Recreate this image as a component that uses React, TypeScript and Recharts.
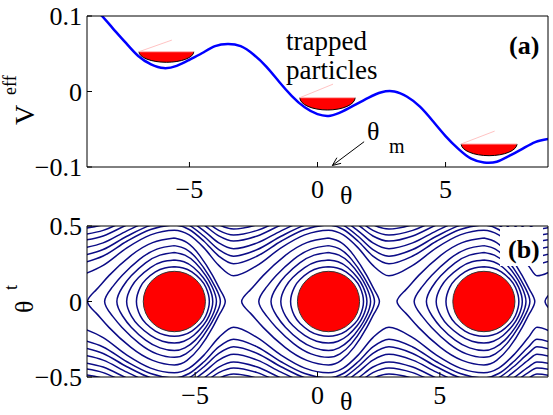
import React from "react";
import { LineChart, Line, XAxis, YAxis, ReferenceArea, ReferenceLine } from "recharts";

const FONT = "'Liberation Serif', 'DejaVu Serif', 'Times New Roman', serif";

// (a) effective potential
const thetaA = [-9, -8.5, -8, -7.5, -7, -6.5, -6, -5.5, -5, -4.5, -4, -3.5, -3, -2.5, -2, -1.5, -1, -0.5, 0, 0.5, 1, 1.5, 2, 2.5, 3, 3.5, 4, 4.5, 5, 5.5, 6, 6.5, 7, 7.5, 8, 8.5, 9];
const vEff = [0.117, 0.103, 0.084, 0.065, 0.047, 0.036, 0.031, 0.034, 0.042, 0.051, 0.06, 0.063, 0.06, 0.049, 0.033, 0.013, -0.006, -0.021, -0.03, -0.032, -0.026, -0.017, -0.008, -0.001, 0.0, -0.007, -0.02, -0.039, -0.059, -0.076, -0.089, -0.094, -0.093, -0.085, -0.076, -0.067, -0.063];

// trapped-particle bowls
const bowlLeft = [-6.97, -0.69, 5.61];
const bowlRight = [-4.83, 1.47, 7.79];
const bowlTop = [0.0527, -0.0082, -0.0695];
const bowlBottom = [0.0387, -0.0245, -0.085];

// theta_m arrow (from, to)
const arrowFrom = [1.82, -0.0665];
const arrowTo = [0.58, -0.098];

// (b) phase portrait
const wellCenters = [-5.85, 0.45, 6.8, 12.85];
const circleHalfTheta = 1.27;
const circleHalfThetaT = 0.2;

// open orbits: theta_t over the well, at 1/4, 1/2, 3/4 of the way to the saddle, at the saddle
const orbitSteps = [0, 0.25, 0.5, 0.75, 1];
const saddleLeft = -3.88;
const saddleRight = 2.42;
const openOrbits = [
  [0.472, 0.441, 0.355, 0.239, 0.17],
  [0.506, 0.477, 0.399, 0.301, 0.25],
  [0.533, 0.505, 0.432, 0.344, 0.3],
  [0.562, 0.536, 0.468, 0.388, 0.35],
  [0.595, 0.57, 0.507, 0.434, 0.4],
  [0.622, 0.599, 0.539, 0.471, 0.44],
  [0.651, 0.629, 0.572, 0.509, 0.48],
];

// closed orbits: where they cross theta_t = 0 left / right of the well, and their height profile
const loopSteps = [0, 0.25, 0.5, 0.75, 0.9, 1];
const loopLeft = [-3.55, -2.85, -2.35, -1.95, -1.55];
const loopRight = [2.08, 1.88, 1.72, 1.57, 1.43];
const loopProfiles = [
  [0.42, 0.39, 0.304, 0.173, 0.077, 0],
  [0.37, 0.347, 0.279, 0.172, 0.089, 0],
  [0.325, 0.307, 0.256, 0.17, 0.096, 0],
  [0.275, 0.263, 0.225, 0.159, 0.097, 0],
  [0.23, 0.222, 0.196, 0.146, 0.094, 0],
];

const curveData = thetaA.map((x, i) => ({ x, v: vEff[i] }));

type Pt = { x: number; y: number };

const buildOpen = (profile: number[], sign: number) => {
  const pts: Pt[] = [];
  wellCenters.forEach((c, ci) => {
    const last = ci === wellCenters.length - 1;
    for (let k = orbitSteps.length - 1; k > 0; k--)
      pts.push({ x: c + saddleLeft * orbitSteps[k], y: sign * profile[k] });
    pts.push({ x: c, y: sign * profile[0] });
    const stop = last ? orbitSteps.length : orbitSteps.length - 1;
    for (let k = 1; k < stop; k++)
      pts.push({ x: c + saddleRight * orbitSteps[k], y: sign * profile[k] });
  });
  return pts;
};

const buildLoop = (c: number, j: number) => {
  const prof = loopProfiles[j];
  const n = loopSteps.length;
  const pts: Pt[] = [];
  for (let k = 0; k < n; k++) pts.push({ x: c + loopRight[j] * loopSteps[k], y: prof[k] });
  for (let k = n - 2; k >= 0; k--) pts.push({ x: c + loopRight[j] * loopSteps[k], y: -prof[k] });
  for (let k = 1; k < n; k++) pts.push({ x: c + loopLeft[j] * loopSteps[k], y: -prof[k] });
  for (let k = n - 2; k >= 0; k--) pts.push({ x: c + loopLeft[j] * loopSteps[k], y: prof[k] });
  return pts;
};

const openSeries: Pt[][] = [];
openOrbits.forEach((p) => {
  openSeries.push(buildOpen(p, 1));
  openSeries.push(buildOpen(p, -1));
});
const loopSeries: Pt[][] = [];
wellCenters.forEach((c) => loopProfiles.forEach((_, j) => loopSeries.push(buildLoop(c, j))));

const fmt = (v: number) => (v < 0 ? "\u2212" + String(-v) : String(v));
const tickStyle = { fontSize: 26, fontFamily: FONT, fill: "#000" };
const ORBIT = "#0b0b86";

function Bowl(props: any) {
  const { x, y, width: w, height: h } = props;
  const arc = `M${x + w},${y} A${w / 2},${h} 0 0 1 ${x},${y}`;
  return (
    <g>
      <path d={`${arc} Z`} fill="#ff0000" />
      <path d={arc} fill="none" stroke="#000" strokeWidth={1} />
      <line x1={x} y1={y} x2={x + w} y2={y} stroke="#ffb4b4" strokeWidth={1} />
      <line x1={x} y1={y} x2={x + 0.6 * w} y2={y - 1.1 * h} stroke="#ffb4b4" strokeWidth={0.8} />
    </g>
  );
}

function Disc(props: any) {
  const { x, y, width: w, height: h } = props;
  return <ellipse cx={x + w / 2} cy={y + h / 2} rx={w / 2} ry={h / 2} fill="#ff0000" stroke="#333" strokeWidth={1} />;
}

function Arrow(props: any) {
  const { x1, y1, x2, y2 } = props;
  const a = Math.atan2(y2 - y1, x2 - x1);
  const len = 9;
  const spread = 0.4;
  const h1x = x2 - len * Math.cos(a - spread);
  const h1y = y2 - len * Math.sin(a - spread);
  const h2x = x2 - len * Math.cos(a + spread);
  const h2y = y2 - len * Math.sin(a + spread);
  return (
    <g stroke="#000" strokeWidth={1} fill="none">
      <line x1={x1} y1={y1} x2={x2} y2={y2} />
      <polyline points={`${h1x},${h1y} ${x2},${y2} ${h2x},${h2y}`} />
    </g>
  );
}

export default function App() {
  return (
    <div style={{ position: "absolute", left: 0, top: 0, width: 553, height: 415, background: "#fff", fontFamily: FONT }}>
      <div style={{ position: "absolute", left: 0, top: 0 }}>
        <LineChart width={553} height={208} margin={{ top: 0, right: 0, bottom: 0, left: 0 }}>
          <XAxis dataKey="x" type="number" domain={[-9, 9]} ticks={[-5, 0, 5]} interval={0} allowDataOverflow height={41}
            tickSize={-5} tickMargin={18} tick={tickStyle} tickFormatter={fmt} axisLine={{ stroke: "#000" }} tickLine={{ stroke: "#000" }} />
          <XAxis xAxisId="top" orientation="top" type="number" domain={[-9, 9]} ticks={[-5, 0, 5]} interval={0} height={16}
            tickSize={-5} tick={false} axisLine={{ stroke: "#000" }} tickLine={{ stroke: "#000" }} />
          <YAxis type="number" domain={[-0.1, 0.1]} ticks={[-0.1, 0, 0.1]} interval={0} allowDataOverflow width={87}
            tickSize={-5} tickMargin={10} tick={tickStyle} tickFormatter={fmt} axisLine={{ stroke: "#000" }} tickLine={{ stroke: "#000" }} />
          <YAxis yAxisId="r" orientation="right" type="number" domain={[-0.1, 0.1]} ticks={[-0.1, 0, 0.1]} interval={0} width={5}
            tickSize={-5} tick={false} axisLine={{ stroke: "#000" }} tickLine={{ stroke: "#000" }} />
          <Line data={curveData} dataKey="v" type="natural" stroke="#0000ff" strokeWidth={2.5} dot={false} isAnimationActive={false} />
          {bowlLeft.map((l, i) => (
            <ReferenceArea key={i} x1={l} x2={bowlRight[i]} y1={bowlBottom[i]} y2={bowlTop[i]} shape={(p: any) => <Bowl {...p} />} />
          ))}
          <ReferenceLine segment={[{ x: arrowFrom[0], y: arrowFrom[1] }, { x: arrowTo[0], y: arrowTo[1] }]} shape={(p: any) => <Arrow {...p} />} />
        </LineChart>
      </div>
      <div style={{ position: "absolute", left: 0, top: 208 }}>
        <LineChart width={553} height={207} margin={{ top: 0, right: 0, bottom: 0, left: 0 }}>
          <XAxis dataKey="x" type="number" domain={[-9.42, 9.42]} ticks={[-5, 0, 5]} interval={0} allowDataOverflow height={38}
            tickSize={-5} tickMargin={14} tick={tickStyle} tickFormatter={fmt} axisLine={{ stroke: "#000" }} tickLine={{ stroke: "#000" }} />
          <XAxis xAxisId="top" orientation="top" type="number" domain={[-9.42, 9.42]} ticks={[-5, 0, 5]} interval={0} height={18}
            tickSize={-5} tick={false} axisLine={{ stroke: "#000" }} tickLine={{ stroke: "#000" }} />
          <YAxis type="number" domain={[-0.5, 0.5]} ticks={[-0.5, 0, 0.5]} interval={0} allowDataOverflow width={87}
            tickSize={-5} tickMargin={10} tick={tickStyle} tickFormatter={fmt} axisLine={{ stroke: "#000" }} tickLine={{ stroke: "#000" }} />
          <YAxis yAxisId="r" orientation="right" type="number" domain={[-0.5, 0.5]} ticks={[-0.5, 0, 0.5]} interval={0} width={5}
            tickSize={-5} tick={false} axisLine={{ stroke: "#000" }} tickLine={{ stroke: "#000" }} />
          {openSeries.map((d, i) => (
            <Line key={"o" + i} data={d} dataKey="y" type="monotone" stroke={ORBIT} strokeWidth={1.5} dot={false} isAnimationActive={false} />
          ))}
          {loopSeries.map((d, i) => (
            <Line key={"l" + i} data={d} dataKey="y" type="natural" stroke={ORBIT} strokeWidth={1.5} dot={false} isAnimationActive={false} />
          ))}
          {wellCenters.map((c, i) => (
            <ReferenceArea key={i} x1={c - circleHalfTheta} x2={c + circleHalfTheta} y1={-circleHalfThetaT} y2={circleHalfThetaT}
              shape={(p: any) => <Disc {...p} />} />
          ))}
        </LineChart>
      </div>
      <svg width={553} height={415} style={{ position: "absolute", left: 0, top: 0, pointerEvents: "none", fontFamily: FONT }}>
        <text x={509} y={54} fontSize={26} fontWeight="bold" fontFamily={FONT}>(a)</text>
        <rect x={500} y={227} width={43} height={39} fill="#fff" />
        <text x={508} y={258} fontSize={26} fontWeight="bold" fontFamily={FONT}>(b)</text>
        <text x={286} y={50} fontSize={27} fontFamily={FONT}>trapped</text>
        <text x={286} y={79} fontSize={27} fontFamily={FONT}>particles</text>
        <text x={367} y={140} fontSize={26} fontFamily={FONT}>θ</text>
        <text x={389} y={153} fontSize={20} fontFamily={FONT}>m</text>
        <text transform="translate(34,125) rotate(-90)" fontSize={28} fontFamily={FONT}>V</text>
        <text transform="translate(16,95) rotate(-90)" fontSize={18} fontFamily={FONT}>eff</text>
        <text transform="translate(33,313) rotate(-90)" fontSize={26} fontFamily={FONT}>θ</text>
        <text transform="translate(17,290) rotate(-90)" fontSize={18} fontFamily={FONT}>t</text>
        <text x={340} y={204} fontSize={26} fontFamily={FONT}>θ</text>
        <text x={340} y={410} fontSize={26} fontFamily={FONT}>θ</text>
      </svg>
    </div>
  );
}
